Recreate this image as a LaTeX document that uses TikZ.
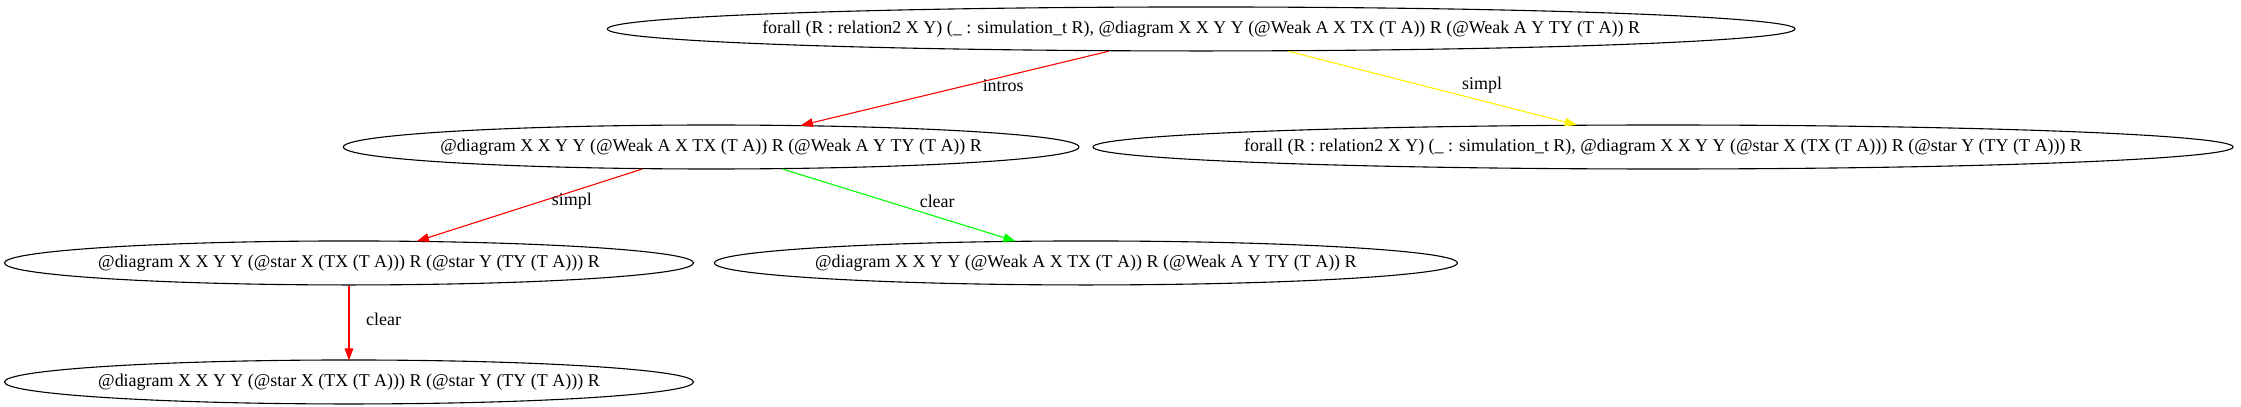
\documentclass[tikz,border=0pt]{standalone}
\usepackage{fontspec}
\setmainfont{Liberation Serif}
\usepackage{tikz}
\usetikzlibrary{arrows.meta,shapes.geometric}

\tikzset{
  goal/.style={draw, ellipse, line width=0.9pt, minimum height=36pt, inner sep=0pt},
  tac/.style={line width=0.9pt, -{Triangle[length=10pt,width=7pt]}, shorten >=-1pt},
  lbl/.style={inner sep=1pt},
}

\begin{document}
\begin{tikzpicture}[x=1pt,y=1pt,font=\fontsize{14.7}{17}\selectfont]
    \useasboundingbox (0,0) rectangle (1834,333);
    %% goals
    \node[goal, minimum width=972pt, label=center:{forall (R : relation2 X Y) (\_ : simulation\_t R), @diagram X X Y Y (@Weak A X TX (T A)) R (@Weak A Y TY (T A)) R}] (n0) at (983,309.3) {};
    \node[goal, minimum width=602pt, label=center:{@diagram X X Y Y (@Weak A X TX (T A)) R (@Weak A Y TY (T A)) R}] (n1) at (582,212.7) {};
    \node[goal, minimum width=933pt, label=center:{forall (R : relation2 X Y) (\_ : simulation\_t R), @diagram X X Y Y (@star X (TX (T A))) R (@star Y (TY (T A))) R}] (n2) at (1361,212.7) {};
    \node[goal, minimum width=564pt, label=center:{@diagram X X Y Y (@star X (TX (T A))) R (@star Y (TY (T A))) R}] (n3) at (285.6,117.8) {};
    \node[goal, minimum width=608pt, label=center:{@diagram X X Y Y (@Weak A X TX (T A)) R (@Weak A Y TY (T A)) R}] (n4) at (888.7,117.8) {};
    \node[goal, minimum width=564pt, label=center:{@diagram X X Y Y (@star X (TX (T A))) R (@star Y (TY (T A))) R}] (n5) at (285.6,20.4) {};
    %% tactics
    \draw[tac, red] (n0) -- (n1);
    \draw[tac, yellow] (n0) -- (n2);
    \draw[tac, red] (n1) -- (n3);
    \draw[tac, green] (n1) -- (n4);
    \draw[tac, red] (n3) -- (n5);
    \node[lbl] (t0) at (821,263) {intros};
    \node[lbl] (t1) at (1213,263) {simpl};
    \node[lbl] (t2) at (468,168) {simpl};
    \node[lbl] (t3) at (767,168) {clear};
    \node[lbl] (t4) at (314,72) {clear};
\end{tikzpicture}
\end{document}
